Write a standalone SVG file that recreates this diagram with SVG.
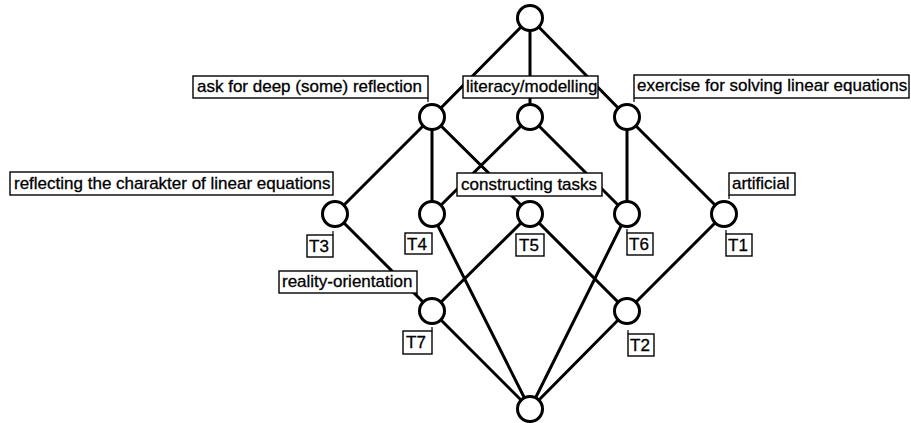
<svg xmlns="http://www.w3.org/2000/svg" width="911" height="423" viewBox="0 0 911 423">
<style>
.e{stroke:#000;stroke-width:3;fill:none;stroke-linecap:round}
.n{fill:#fff;stroke:#000;stroke-width:3}
.b{fill:#fff;stroke:#000;stroke-width:1.4}
.t{font-family:"Liberation Sans",Arial,sans-serif;font-size:17px;fill:#000;stroke:#000;stroke-width:0.3}
.k{stroke:#000;stroke-width:1.2}
</style>
<rect width="911" height="423" fill="#fff"/>
<g id="connectors">
<line class="e" x1="530" y1="18" x2="432" y2="117"/>
<line class="e" x1="530" y1="18" x2="530" y2="117"/>
<line class="e" x1="530" y1="18" x2="627" y2="117"/>
<line class="e" x1="432" y1="117" x2="335" y2="214"/>
<line class="e" x1="432" y1="117" x2="432" y2="214"/>
<line class="e" x1="432" y1="117" x2="530" y2="214"/>
<line class="e" x1="530" y1="117" x2="432" y2="214"/>
<line class="e" x1="530" y1="117" x2="627" y2="214"/>
<line class="e" x1="627" y1="117" x2="627" y2="214"/>
<line class="e" x1="627" y1="117" x2="724" y2="214"/>
<line class="e" x1="335" y1="214" x2="432" y2="311"/>
<line class="e" x1="432" y1="214" x2="530" y2="409"/>
<line class="e" x1="530" y1="214" x2="432" y2="311"/>
<line class="e" x1="530" y1="214" x2="627" y2="311"/>
<line class="e" x1="627" y1="214" x2="530" y2="409"/>
<line class="e" x1="724" y1="214" x2="627" y2="311"/>
<line class="e" x1="432" y1="311" x2="530" y2="409"/>
<line class="e" x1="627" y1="311" x2="530" y2="409"/>
</g>
<g id="n-top"><circle class="n" cx="530" cy="18" r="12.5"/></g>
<g id="n-ask"><circle class="n" cx="432" cy="117" r="12.5"/>
<rect class="b" x="193" y="76" width="235" height="22"/><line class="k" x1="428" y1="98" x2="428" y2="102"/>
<text class="t" x="197" y="92">ask for deep (some) reflection</text></g>
<g id="n-lit"><circle class="n" cx="530" cy="117" r="12.5"/>
<rect class="b" x="463" y="76" width="135" height="22"/>
<text class="t" x="466" y="92">literacy/modelling</text></g>
<g id="n-ex"><circle class="n" cx="627" cy="117" r="12.5"/>
<rect class="b" x="634" y="75" width="275" height="23"/><line class="k" x1="634" y1="98" x2="634" y2="102"/>
<text class="t" x="637" y="91">exercise for solving linear equations</text></g>
<g id="n-T3"><circle class="n" cx="335" cy="214" r="12.5"/>
<rect class="b" x="10" y="172" width="323" height="23"/>
<text class="t" x="14" y="189">reflecting the charakter of linear equations</text>
<rect class="b" x="307" y="235" width="26" height="22"/><line class="k" x1="333" y1="235" x2="333" y2="231"/>
<text class="t" x="309" y="252">T3</text></g>
<g id="n-T4"><circle class="n" cx="432" cy="214" r="12.5"/>
<rect class="b" x="405" y="233" width="27" height="21"/>
<text class="t" x="407" y="250">T4</text></g>
<g id="n-T5"><circle class="n" cx="530" cy="214" r="12.5"/>
<rect class="b" x="457" y="173" width="145" height="23"/>
<text class="t" x="461" y="190">constructing tasks</text>
<rect class="b" x="516" y="234" width="28" height="22"/>
<text class="t" x="519" y="251">T5</text></g>
<g id="n-T6"><circle class="n" cx="627" cy="214" r="12.5"/>
<rect class="b" x="627" y="233" width="26" height="22"/><line class="k" x1="627" y1="233" x2="627" y2="229"/>
<text class="t" x="629" y="250">T6</text></g>
<g id="n-T1"><circle class="n" cx="724" cy="214" r="12.5"/>
<rect class="b" x="729" y="173" width="66" height="22"/><line class="k" x1="729" y1="195" x2="729" y2="199"/>
<text class="t" x="732" y="189">artificial</text>
<rect class="b" x="726" y="234" width="26" height="22"/><line class="k" x1="726" y1="234" x2="726" y2="230"/>
<text class="t" x="728" y="251">T1</text></g>
<g id="n-T7"><circle class="n" cx="432" cy="311" r="12.5"/>
<rect class="b" x="279" y="271" width="138" height="22"/><line class="k" x1="417" y1="293" x2="417" y2="297"/>
<text class="t" x="282" y="287">reality-orientation</text>
<rect class="b" x="403" y="331" width="29" height="23"/><line class="k" x1="432" y1="331" x2="432" y2="327"/>
<text class="t" x="406" y="348">T7</text></g>
<g id="n-T2"><circle class="n" cx="627" cy="311" r="12.5"/>
<rect class="b" x="628" y="334" width="26" height="22"/><line class="k" x1="628" y1="334" x2="628" y2="330"/>
<text class="t" x="630" y="351">T2</text></g>
<g id="n-bottom"><circle class="n" cx="530" cy="409" r="12.5"/></g>
</svg>
